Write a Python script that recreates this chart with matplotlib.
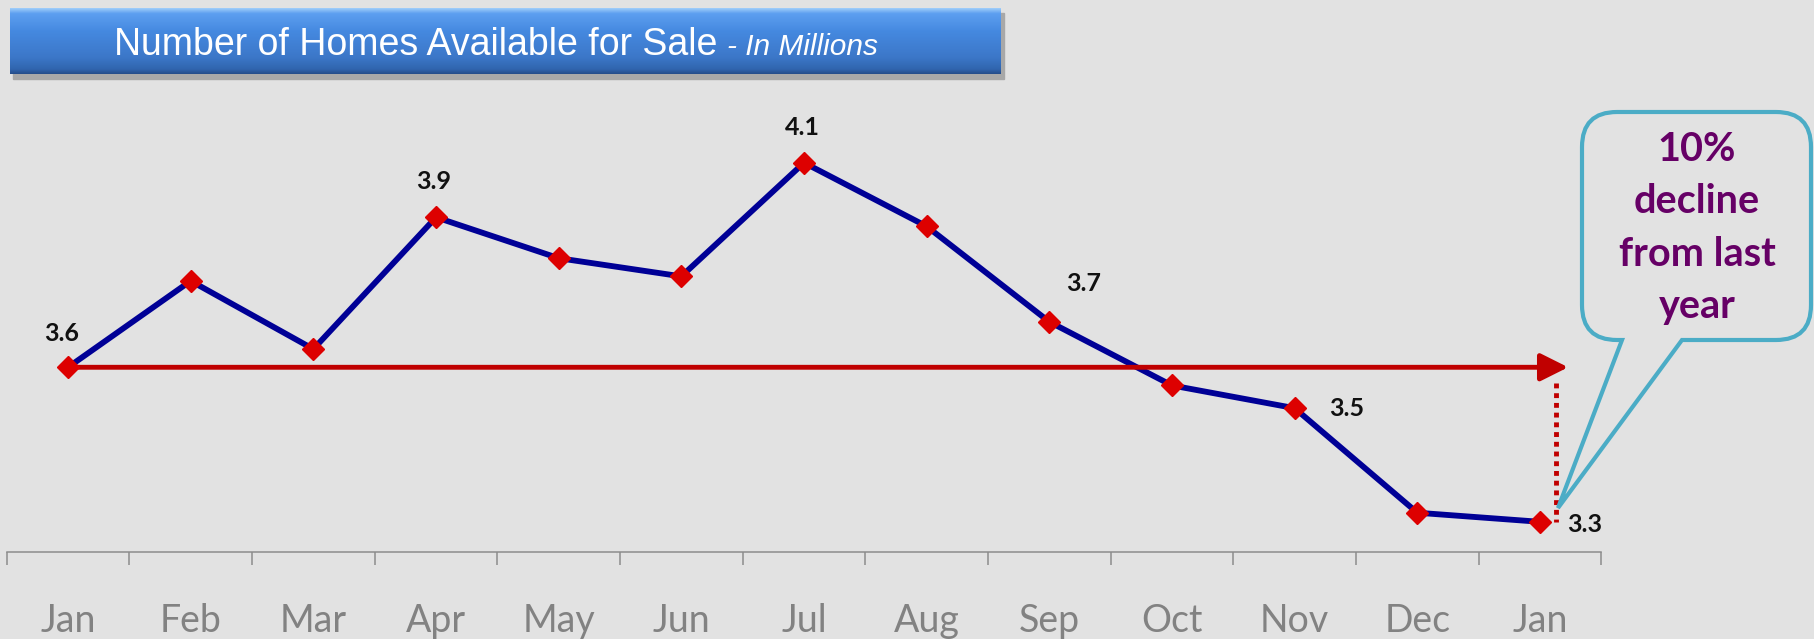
import matplotlib.pyplot as plt
from matplotlib.path import Path
from matplotlib.patches import PathPatch, Rectangle
from matplotlib.colors import LinearSegmentedColormap
import numpy as np

# Homes available for sale, in millions
months = ['Jan', 'Feb', 'Mar', 'Apr', 'May', 'Jun', 'Jul', 'Aug', 'Sep', 'Oct', 'Nov', 'Dec', 'Jan']
homes = [3.61, 3.80, 3.65, 3.94, 3.85, 3.81, 4.06, 3.92, 3.71, 3.57, 3.52, 3.29, 3.27]
labeled = [0, 3, 6, 8, 10, 12]

title_main = 'Number of Homes Available for Sale'
title_sub = '- In Millions'
callout_text = '10%\ndecline\nfrom last\nyear'

plt.rcParams['font.family'] = ['Lato', 'DejaVu Sans']

W, H = 1814, 639
bg = '#e2e2e2'


def fx(px):
    return px / W


def fy(py):
    return 1 - py / H


fig = plt.figure(figsize=(W / 100, H / 100), dpi=100, facecolor=bg)

# main plot area
ax = fig.add_axes([fx(6.7), fy(551.5), (1601.3 - 6.7) / W, 551.5 / H])
ax.patch.set_visible(False)
ax.set_xlim(-0.5, 12.5)
ax.set_ylim(3.2047, 4.418)

x = np.arange(len(months))
ax.plot(x, homes, color='#000096', lw=4.2, zorder=2, solid_joinstyle='round')
ax.plot(x, homes, ls='none', marker='D', ms=11, color='#dd0000', zorder=4, clip_on=False)

# last year's level arrow + drop line
ax.annotate('', xy=(12.23, homes[0]), xytext=(0, homes[0]),
            arrowprops=dict(arrowstyle='-|>,head_length=0.4,head_width=0.2', color='#c00000',
                            lw=3.5, mutation_scale=42, shrinkA=0, shrinkB=0),
            zorder=3)
ax.plot([12.13, 12.13], [homes[0] - 0.035, homes[-1]], color='#c00000', lw=3.5,
        ls=(0, (1, 1)), zorder=3)

# data labels (offsets in px)
offsets = {0: (-6, 34), 3: (-2, 36), 6: (-2, 35), 8: (34, 38), 10: (52, 0), 12: (45, -3)}
for i in labeled:
    dx, dy = offsets[i]
    ax.annotate(f'{homes[i]:.1f}', (i, homes[i]), xytext=(dx * 0.72, dy * 0.72),
                textcoords='offset points', ha='center', va='center',
                fontsize=18, fontweight='bold', color='#111111', zorder=5)

for s in ['left', 'top', 'right']:
    ax.spines[s].set_visible(False)
ax.spines['bottom'].set_color('#8c8c8c')
ax.spines['bottom'].set_linewidth(1.1)
ax.set_yticks([])
ax.set_xticks(np.arange(-0.5, 13, 1))
ax.tick_params(axis='x', which='major', length=9, width=1.1, color='#8c8c8c', labelbottom=False)
ax.set_xticks(x, minor=True)
ax.set_xticklabels(months, minor=True)
ax.tick_params(axis='x', which='minor', length=0, pad=37, labelsize=27, labelcolor='#828282')

# title banner
fig.patches.append(Rectangle((fx(13), fy(79)), 991 / W, 66 / H, transform=fig.transFigure,
                             color='#a8a8a8', zorder=-5))
tax = fig.add_axes([fx(10), fy(74), 991 / W, 66 / H], zorder=1)
cmap = LinearSegmentedColormap.from_list('banner', [
    (0.0, '#9fcdfa'), (0.08, '#5d9ff0'), (0.35, '#4589e0'),
    (0.75, '#3c77c8'), (0.93, '#3065ae'), (1.0, '#254d8a')])
tax.imshow(np.linspace(0, 1, 200).reshape(-1, 1), aspect='auto', cmap=cmap, extent=[0, 1, 0, 1])
tax.axis('off')
fig.text(fx(717), fy(55), title_main, ha='right', va='baseline', fontsize=27,
         color='white', family='Liberation Sans', zorder=5)
fig.text(fx(727), fy(55), title_sub, ha='left', va='baseline', fontsize=21.5,
         style='italic', color='white', family='Liberation Sans', zorder=5)

# callout bubble
L, R, T, B, r = 1582, 1811, 112, 340, 35
tail_l, tail_r, tip = 1622, 1682, (1558, 508)
pts = [(L + r, T), (R - r, T), (R, T), (R, T + r), (R, B - r), (R, B), (R - r, B),
       (tail_r, B), tip, (tail_l, B), (L + r, B), (L, B), (L, B - r), (L, T + r), (L, T),
       (L + r, T), (L + r, T)]
codes = [Path.MOVETO, Path.LINETO, Path.CURVE3, Path.CURVE3, Path.LINETO, Path.CURVE3,
         Path.CURVE3, Path.LINETO, Path.LINETO, Path.LINETO, Path.LINETO, Path.CURVE3,
         Path.CURVE3, Path.LINETO, Path.CURVE3, Path.CURVE3, Path.CLOSEPOLY]
verts = [(fx(px), fy(py)) for px, py in pts]
fig.patches.append(PathPatch(Path(verts, codes), transform=fig.transFigure, facecolor='none',
                             edgecolor='#4bacc6', lw=3, joinstyle='miter'))
fig.text(fx(1697), fy(228), callout_text, ha='center', va='center', fontsize=28.5,
         fontweight='bold', color='#660066', linespacing=1.52)

fig.savefig('out.png', dpi=100, facecolor=bg)
